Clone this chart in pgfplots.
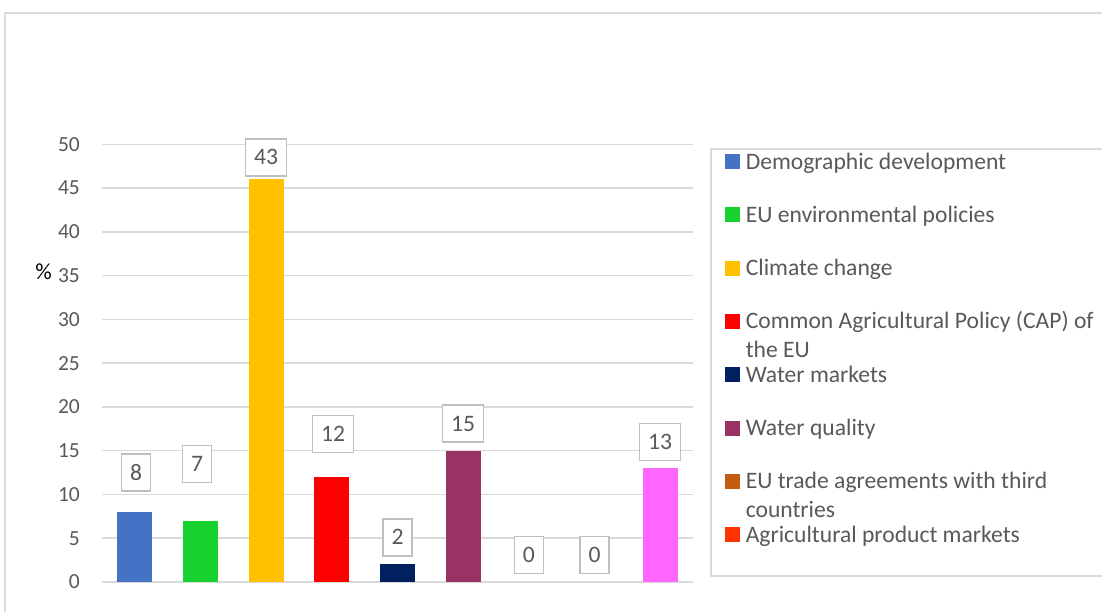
\documentclass[border=0pt]{standalone}
\usepackage{pgfplots}
\pgfplotsset{compat=1.18}
\usepackage{fontspec}
\setmainfont{Carlito}
\definecolor{cBlue}{HTML}{4472C4}
\definecolor{cGreen}{HTML}{17D12E}
\definecolor{cYellow}{HTML}{FFC000}
\definecolor{cRed}{HTML}{FF0000}
\definecolor{cNavy}{HTML}{002060}
\definecolor{cPurple}{HTML}{993366}
\definecolor{cBrown}{HTML}{C55A11}
\definecolor{cOrange}{HTML}{FF3300}
\definecolor{cPink}{HTML}{FF66FF}
\definecolor{gridc}{HTML}{D9D9D9}
\definecolor{lbl}{HTML}{595959}
\definecolor{boxc}{HTML}{BFBFBF}
\newcommand{\LE}[1]{\makebox[360pt][l]{#1}}
\begin{document}
\begin{tikzpicture}
\useasboundingbox (0,0) rectangle (1102pt,611pt);
\clip (0,0) rectangle (1102pt,611pt);
\draw[gridc, line width=1.5pt] (5pt,-20pt) rectangle (1130pt,598pt);
\begin{axis}[
  at={(102pt,29pt)}, anchor=south west,
  scale only axis, width=591pt, height=437.7pt,
  xmin=0.5, xmax=9.5, ymin=0, ymax=50,
  enlargelimits=false,
  xtick=\empty, ytick={0,5,...,50},
  ymajorgrids, grid style={gridc, line width=1.5pt},
  axis line style={draw=none},
  major tick length=0pt,
  clip=false,
  /pgf/number format/assume math mode=true,
  yticklabel style={font=\fontsize{21.5}{26}\selectfont, text=lbl, inner sep=0pt, anchor=east, xshift=-22pt},
  ylabel={\%},
  ylabel style={at={(axis description cs:-0.099,0.708)}, rotate=-90, anchor=center, font=\fontsize{23}{28}\selectfont, text=black},
  mybar/.style={ybar, bar width=35pt, bar shift=0pt, draw=none, fill=#1,
    legend image code/.code={\path[fill=#1] (0pt,0pt) rectangle (15pt,15pt);}},
  legend style={
    at={(axis description cs:1.0288,0.9915)}, anchor=north west,
    draw=gridc, line width=1.5pt, fill=white,
    inner xsep=14pt, inner ysep=4.3pt,
    row sep=32.3pt, column sep=6pt,
    font=\fontsize{23.6}{28.5}\selectfont, text=lbl,
    cells={anchor=base west},
    nodes={inner sep=0pt, text height=16pt, text depth=5pt},
  },
]
\addplot[mybar=cBlue] coordinates {(1,8)};
\addlegendentry{\LE{Demographic development}}
\addplot[mybar=cGreen] coordinates {(2,7)};
\addlegendentry{\LE{EU environmental policies}}
\addplot[mybar=cYellow] coordinates {(3,46)};
\addlegendentry{\LE{Climate change}}
\addplot[mybar=cRed] coordinates {(4,12)};
\addlegendentry{\LE{\makebox[0pt][l]{\raisebox{-28.5pt}{the EU}}Common Agricultural Policy (CAP) of}}
\addplot[mybar=cNavy] coordinates {(5,2)};
\addlegendentry{\LE{Water markets}}
\addplot[mybar=cPurple] coordinates {(6,15)};
\addlegendentry{\LE{Water quality}}
\addplot[mybar=cBrown, fill=none] coordinates {(7,0)};
\addlegendentry{\LE{\makebox[0pt][l]{\raisebox{-28.5pt}{countries}}EU trade agreements with third}}
\addplot[mybar=cOrange, fill=none] coordinates {(8,0)};
\addlegendentry[text depth=29.3pt]{\LE{Agricultural product markets}}
\addplot[mybar=cPink, forget plot] coordinates {(9,13)};
\addplot[draw=none, mark=none, forget plot,
  nodes near coords, point meta=explicit symbolic,
  nodes near coords align={center},
  every node near coord/.append style={font=\fontsize{23.6}{28}\selectfont, text=lbl, draw=boxc, line width=1.5pt, fill=white, inner xsep=8.5pt, inner ysep=11pt, text height=15pt, text depth=0pt, anchor=center}]
  coordinates {(1.02,12.5)[8] (1.95,13.5)[7] (3,48.5)[43] (4.02,16.9)[12] (5,5.1)[2] (6,18.1)[15] (7,3.1)[0] (8,3.1)[0] (9,16.0)[13]};
\end{axis}
\end{tikzpicture}
\end{document}
